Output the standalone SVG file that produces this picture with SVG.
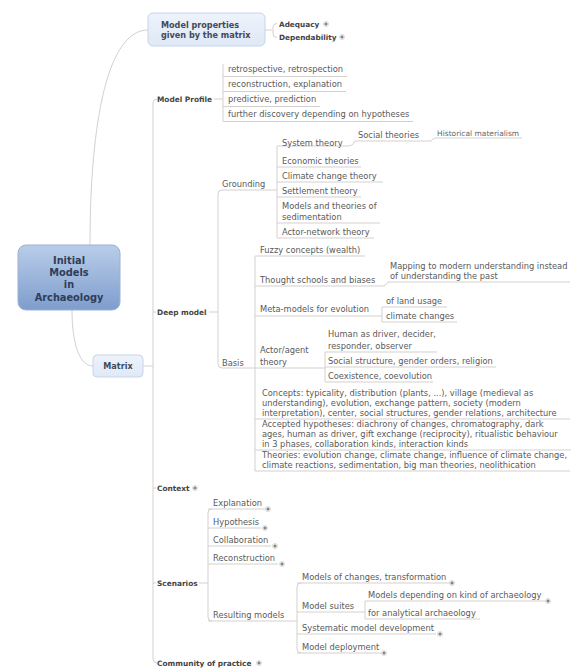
<svg xmlns="http://www.w3.org/2000/svg" width="571" height="668" viewBox="0 0 571 668">
<defs>
<linearGradient id="rootGrad" x1="0" y1="0" x2="0" y2="1">
<stop offset="0" stop-color="#b9cde9"/>
<stop offset="1" stop-color="#7e9dcd"/>
</linearGradient>
<linearGradient id="boxGrad" x1="0" y1="0" x2="0" y2="1">
<stop offset="0" stop-color="#eef3fb"/>
<stop offset="1" stop-color="#dfe8f6"/>
</linearGradient>
<g id="plus">
<circle r="2.6" fill="#f4f4f4" stroke="#cfcfcf" stroke-width="0.6"/>
<path d="M-1.6,0 H1.6 M0,-1.6 V1.6" stroke="#444" stroke-width="0.8"/>
</g>
</defs>
<style>
.c{fill:none;stroke:#d6cfcf;stroke-width:1}
.t{font-family:"DejaVu Sans",Verdana,sans-serif;font-size:8.3px;fill:#5a5a5a}
.s{font-family:"DejaVu Sans",Verdana,sans-serif;font-size:7.5px;fill:#666}
.b{font-family:"DejaVu Sans",Verdana,sans-serif;font-weight:bold;font-size:7.4px;fill:#444}
.bs{font-family:"DejaVu Sans",Verdana,sans-serif;font-weight:bold;font-size:7.3px;fill:#444}
.bb{font-family:"DejaVu Sans",Verdana,sans-serif;font-weight:bold;font-size:8.1px;fill:#3f4a5a}
.r{font-family:"DejaVu Sans",Verdana,sans-serif;font-weight:bold;font-size:9.8px;fill:#2e3d58}
</style>
<rect width="571" height="668" fill="#ffffff"/>
<g id="connectors">
<path class="c" d="M90,245 C90,120 108,30 148,30"/>
<path class="c" d="M265,30 H272 M277,23.5 Q273,23.5 273,27 V34 Q273,37.5 277,37.5"/>
<path class="c" d="M72,310 C72,345 80,366 93,366"/>
<path class="c" d="M143,366 H153"/>
<path class="c" d="M157,99 Q153,99 153,103 V659 Q153,663 157,663 M153,312 H156 M153,488 H156 M153,583 H156"/>
<path class="c" d="M214,99 H223 M223,64 V121.5 M223,76.5 H347 M223,91.5 H346 M223,106.5 H320 M223,121.5 H413"/>
<path class="c" d="M209,312 H218 M222,190 Q218,190 218,194 V364 Q218,368 222,368"/>
<path class="c" d="M222,190 H277 M277,146 V238"/>
<path class="c" d="M277,146 H349 Q353,146 355,141 H431 Q433,138 436,138 H522"/>
<path class="c" d="M277,167 H361 M277,182 H383 M277,197 H361 M277,223 H380 M277,238 H374"/>
<path class="c" d="M222,368 H255 M255,256 V471"/>
<path class="c" d="M255,256 H365"/>
<path class="c" d="M255,286 H383 Q386,286 388,282 H570"/>
<path class="c" d="M255,316 H382 M382,307 V322 M382,307 H447 M382,322 H457"/>
<path class="c" d="M255,368 H325 M325,352 V382 M325,352 H437 M325,367 H496 M325,382 H433"/>
<path class="c" d="M255,419 H570 M255,450 H571 M255,471 H570"/>
<path class="c" d="M199,583 H208 M212,509 Q208,509 208,513 V617 Q208,621 212,621"/>
<path class="c" d="M208,509 H265 M208,528 H261 M208,546 H271 M208,564 H278 M208,621 H297"/>
<path class="c" d="M301,583 Q297,583 297,587 V649 Q297,653 301,653"/>
<path class="c" d="M297,583 H449 M297,612 H365 M365,601 V619 M365,601 H545 M365,619 H480 M297,634 H436 M297,653 H381"/>
</g>
<g id="n-root">
<rect x="18" y="245" width="102" height="65" rx="8" fill="url(#rootGrad)" stroke="#9bb2d6" stroke-width="1"/>
<text class="r" text-anchor="middle"><tspan x="69" y="263.5">Initial</tspan><tspan x="69" y="276">Models</tspan><tspan x="69" y="288">in</tspan><tspan x="69" y="301">Archaeology</tspan></text>
</g>
<g id="n-props">
<rect x="148" y="13" width="117" height="33" rx="5" fill="url(#boxGrad)" stroke="#c6d4ea"/>
<text class="bb"><tspan x="161" y="28">Model properties</tspan><tspan x="161" y="37.5">given by the matrix</tspan></text>
</g>
<g id="n-adequacy"><text class="bs" x="279" y="26.5">Adequacy</text><use href="#plus" x="326" y="24"/></g>
<g id="n-dependability"><text class="bs" x="279" y="39.5">Dependability</text><use href="#plus" x="342" y="37"/></g>
<g id="n-matrix">
<rect x="93" y="355" width="50" height="22" rx="4" fill="url(#boxGrad)" stroke="#c9d5ea"/>
<text class="bb" x="118" y="369" text-anchor="middle">Matrix</text>
</g>
<g id="n-profile"><text class="b" x="157" y="101.5">Model Profile</text></g>
<g id="n-retro"><text class="t" x="228" y="72">retrospective, retrospection</text></g>
<g id="n-recon-expl"><text class="t" x="228" y="87">reconstruction, explanation</text></g>
<g id="n-predictive"><text class="t" x="228" y="102">predictive, prediction</text></g>
<g id="n-further"><text class="t" x="228" y="117">further discovery depending on hypotheses</text></g>
<g id="n-deep"><text class="b" x="157" y="315">Deep model</text></g>
<g id="n-grounding"><text class="t" x="222" y="186.5">Grounding</text></g>
<g id="n-system"><text class="t" x="282" y="145.5">System theory</text></g>
<g id="n-social"><text class="t" x="358" y="138">Social theories</text></g>
<g id="n-histmat"><text class="s" x="437" y="135.5">Historical materialism</text></g>
<g id="n-econ"><text class="t" x="282" y="164">Economic theories</text></g>
<g id="n-climate"><text class="t" x="282" y="179">Climate change theory</text></g>
<g id="n-settle"><text class="t" x="282" y="194">Settlement theory</text></g>
<g id="n-sediment"><text class="t"><tspan x="282" y="209">Models and theories of</tspan><tspan x="282" y="220">sedimentation</tspan></text></g>
<g id="n-actornet"><text class="t" x="282" y="235">Actor-network theory</text></g>
<g id="n-basis"><text class="t" x="222" y="366">Basis</text></g>
<g id="n-fuzzy"><text class="t" x="260" y="253">Fuzzy concepts (wealth)</text></g>
<g id="n-thought"><text class="t" x="260" y="283">Thought schools and biases</text></g>
<g id="n-mapping"><text class="t"><tspan x="390" y="269">Mapping to modern understanding instead</tspan><tspan x="390" y="278.5">of understanding the past</tspan></text></g>
<g id="n-meta"><text class="t" x="260" y="312">Meta-models for evolution</text></g>
<g id="n-land"><text class="t" x="386" y="304">of land usage</text></g>
<g id="n-climchg"><text class="t" x="386" y="319">climate changes</text></g>
<g id="n-actor"><text class="t"><tspan x="260" y="353">Actor/agent</tspan><tspan x="260" y="365">theory</tspan></text></g>
<g id="n-human"><text class="t"><tspan x="328" y="337">Human as driver, decider,</tspan><tspan x="328" y="348.5">responder, observer</tspan></text></g>
<g id="n-socstruct"><text class="t" x="328" y="364">Social structure, gender orders, religion</text></g>
<g id="n-coexist"><text class="t" x="328" y="379">Coexistence, coevolution</text></g>
<g id="n-concepts"><text class="t"><tspan x="262" y="396">Concepts: typicality, distribution (plants, ...), village (medieval as</tspan><tspan x="262" y="406">understanding), evolution, exchange pattern, society (modern</tspan><tspan x="262" y="415.5">interpretation), center, social structures, gender relations, architecture</tspan></text></g>
<g id="n-accepted"><text class="t"><tspan x="262" y="427">Accepted hypotheses: diachrony of changes, chromatography, dark</tspan><tspan x="262" y="437">ages, human as driver, gift exchange (reciprocity), ritualistic behaviour</tspan><tspan x="262" y="447">in 3 phases, collaboration kinds, interaction kinds</tspan></text></g>
<g id="n-theories"><text class="t"><tspan x="262" y="458">Theories: evolution change, climate change, influence of climate change,</tspan><tspan x="262" y="468">climate reactions, sedimentation, big man theories, neolithication</tspan></text></g>
<g id="n-context"><text class="b" x="157" y="491">Context</text><use href="#plus" x="195" y="488"/></g>
<g id="n-scenarios"><text class="b" x="157" y="586">Scenarios</text></g>
<g id="n-explanation"><text class="t" x="213" y="506">Explanation</text><use href="#plus" x="268" y="509"/></g>
<g id="n-hypothesis"><text class="t" x="213" y="525">Hypothesis</text><use href="#plus" x="265" y="528"/></g>
<g id="n-collab"><text class="t" x="213" y="543">Collaboration</text><use href="#plus" x="275" y="546"/></g>
<g id="n-reconstruction"><text class="t" x="213" y="561">Reconstruction</text><use href="#plus" x="282" y="564"/></g>
<g id="n-resulting"><text class="t" x="213" y="618">Resulting models</text></g>
<g id="n-changes"><text class="t" x="302" y="580">Models of changes, transformation</text><use href="#plus" x="452" y="583"/></g>
<g id="n-suites"><text class="t" x="302" y="609">Model suites</text></g>
<g id="n-depending"><text class="t" x="368" y="598">Models depending on kind of archaeology</text><use href="#plus" x="548" y="601"/></g>
<g id="n-analytical"><text class="t" x="368" y="616">for analytical archaeology</text></g>
<g id="n-systematic"><text class="t" x="302" y="631">Systematic model development</text><use href="#plus" x="440" y="634"/></g>
<g id="n-deployment"><text class="t" x="302" y="650">Model deployment</text><use href="#plus" x="384" y="653"/></g>
<g id="n-community"><text class="b" x="157" y="666">Community of practice</text><use href="#plus" x="259" y="663"/></g>
</svg>
